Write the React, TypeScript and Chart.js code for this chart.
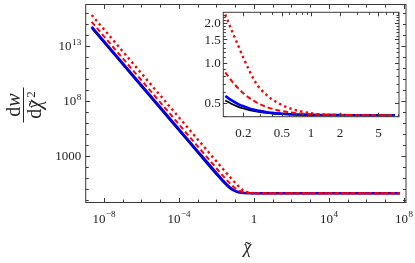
import React, { useEffect, useRef } from "react";
import { Chart, registerables } from "chart.js";
Chart.register(...registerables);

// ---- data ----
const chiTilde = [2.2e-9, 1e-6, 1e-3, 0.01, 0.02, 0.04, 0.06, 0.08, 0.1, 0.13, 0.15, 0.175, 0.2, 0.23, 0.26, 0.3, 0.35, 0.4, 0.45, 0.5, 0.6, 0.7, 0.8, 1, 1.2, 1.5, 2, 2.5, 3, 4, 5, 7.4, 100, 1e4, 6e7];
const blackSolid = [4.13e14, 2.0e9, 2000, 20.4, 5.405, 1.655, 0.961, 0.7175, 0.605, 0.523, 0.494, 0.47, 0.455, 0.443, 0.4346, 0.4272, 0.4213, 0.4175, 0.4149, 0.413, 0.4106, 0.4091, 0.4081, 0.407, 0.4064, 0.4059, 0.4055, 0.4053, 0.4052, 0.4051, 0.4051, 0.405, 0.405, 0.405, 0.405];
const blueSolid = [5.58e14, 2.7e9, 2700, 27.4, 7.155, 2.09, 1.155, 0.827, 0.675, 0.565, 0.525, 0.493, 0.4725, 0.456, 0.445, 0.435, 0.427, 0.422, 0.418, 0.4158, 0.4125, 0.4105, 0.4092, 0.4077, 0.4069, 0.4062, 0.4057, 0.4054, 0.4053, 0.4052, 0.4051, 0.405, 0.405, 0.405, 0.405];
const redDashed = [1.55e15, 7.5e9, 7500, 75.4, 19.16, 5.09, 2.49, 1.577, 1.155, 0.849, 0.738, 0.65, 0.5925, 0.547, 0.516, 0.488, 0.466, 0.452, 0.442, 0.435, 0.426, 0.42, 0.417, 0.4125, 0.41, 0.408, 0.407, 0.406, 0.4058, 0.4055, 0.4053, 0.4051, 0.405, 0.405, 0.405];
const redDotted = [6.6e15, 3.2e10, 32000, 320, 80.4, 20.4, 9.3, 5.4, 3.6, 2.3, 1.78, 1.37, 1.09, 0.878, 0.738, 0.638, 0.572, 0.53, 0.503, 0.483, 0.458, 0.442, 0.432, 0.419, 0.412, 0.4095, 0.407, 0.406, 0.4055, 0.4052, 0.4051, 0.405, 0.405, 0.405, 0.405];

const mainXLabelValues = [1e-8, 1e-4, 1, 1e4, 1e8];
const mainXLabels = ["10^-8", "10^-4", "1", "10^4", "10^8"];
const mainYLabelValues = [1000, 1e8, 1e13];
const mainYLabels = ["1000", "10^8", "10^13"];
const insetXLabelValues = [0.2, 0.5, 1, 2, 5];
const insetXLabels = ["0.2", "0.5", "1", "2", "5"];
const insetYLabelValues = [0.5, 1, 1.5, 2];
const insetYLabels = ["0.5", "1.0", "1.5", "2.0"];

const insetXMin = 0.13;
const insetXMax = 7.4;

const FONT = "'Liberation Serif', 'DejaVu Serif', serif";
const FRAME = "#3a3a3a";

function decades(a: number, b: number) {
  const out: number[] = [];
  for (let e = a; e <= b; e++) out.push(Math.pow(10, e));
  return out;
}
function linSteps(a: number, b: number, s: number) {
  const out: number[] = [];
  for (let v = a; v <= b + 1e-9; v += s) out.push(Math.round(v * 1000) / 1000);
  return out;
}

function drawLabel(ctx: CanvasRenderingContext2D, text: string, x: number, y: number, align: string, fs: number) {
  const parts = text.split("^");
  const base = parts[0];
  const exp = parts.length > 1 ? parts[1].replace("-", "\u2212") : "";
  ctx.font = `${fs}px ${FONT}`;
  const bw = ctx.measureText(base).width;
  const efs = fs * 0.7;
  ctx.font = `${efs}px ${FONT}`;
  const ew = exp ? ctx.measureText(exp).width + 0.5 : 0;
  const w = bw + ew;
  let sx = x;
  if (align === "center") sx = x - w / 2;
  else if (align === "right") sx = x - w;
  ctx.textAlign = "left";
  ctx.textBaseline = "alphabetic";
  ctx.font = `${fs}px ${FONT}`;
  ctx.fillText(base, sx, y);
  if (exp) {
    ctx.font = `${efs}px ${FONT}`;
    ctx.fillText(exp, sx + bw + 0.5, y - fs * 0.4);
  }
}

// italic chi with a tilde placed above it; returns advance width
function drawChiTilde(ctx: CanvasRenderingContext2D, sx: number, baseline: number, fs: number) {
  ctx.font = `italic ${fs}px ${FONT}`;
  ctx.textAlign = "left";
  ctx.textBaseline = "alphabetic";
  const w = ctx.measureText("\u03C7").width;
  ctx.fillText("\u03C7", sx, baseline);
  ctx.textAlign = "center";
  ctx.font = `${fs}px ${FONT}`;
  ctx.fillText("\u02DC", sx + w * 0.55, baseline + fs * 0.12);
  ctx.textAlign = "left";
  return w;
}

const framePlugin = {
  id: "frame",
  beforeDraw(chart: any, _a: any, opts: any) {
    if (opts.fillBg) {
      const { ctx, chartArea: ca } = chart;
      ctx.save();
      ctx.fillStyle = "#ffffff";
      ctx.fillRect(ca.left, ca.top, ca.right - ca.left, ca.bottom - ca.top);
      ctx.restore();
    }
  },
  afterDraw(chart: any, _a: any, opts: any) {
    const { ctx, chartArea: ca } = chart;
    const xs = chart.scales.x;
    const ys = chart.scales.y;
    ctx.save();
    ctx.strokeStyle = FRAME;
    ctx.lineWidth = 1;
    ctx.strokeRect(ca.left, ca.top, ca.right - ca.left, ca.bottom - ca.top);
    ctx.beginPath();
    const tickX = (vals: number[], len: number) => {
      for (const v of vals) {
        const p = Math.round(xs.getPixelForValue(v)) + 0.5;
        if (p < ca.left || p > ca.right) continue;
        ctx.moveTo(p, ca.bottom);
        ctx.lineTo(p, ca.bottom - len);
        ctx.moveTo(p, ca.top);
        ctx.lineTo(p, ca.top + len);
      }
    };
    const tickY = (vals: number[], len: number) => {
      for (const v of vals) {
        const p = Math.round(ys.getPixelForValue(v)) + 0.5;
        if (p < ca.top || p > ca.bottom) continue;
        ctx.moveTo(ca.left, p);
        ctx.lineTo(ca.left + len, p);
        ctx.moveTo(ca.right, p);
        ctx.lineTo(ca.right - len, p);
      }
    };
    tickX(opts.xMinor, opts.minorLen);
    tickX(opts.xLabelValues, opts.majorLen);
    tickY(opts.yMinor, opts.minorLen);
    tickY(opts.yLabelValues, opts.majorLen);
    ctx.stroke();

    ctx.fillStyle = "#222";
    const fs = opts.fontSize;
    opts.xLabelValues.forEach((v: number, i: number) => {
      drawLabel(ctx, opts.xLabels[i], xs.getPixelForValue(v), ca.bottom + opts.xLabelGap, "center", fs);
    });
    opts.yLabelValues.forEach((v: number, i: number) => {
      drawLabel(ctx, opts.yLabels[i], ca.left - opts.yLabelGap, ys.getPixelForValue(v) + fs * 0.33, "right", fs);
    });

    if (opts.titles) {
      // x title
      const xfs = 18;
      ctx.font = `italic ${xfs}px ${FONT}`;
      const cw = ctx.measureText("\u03C7").width;
      drawChiTilde(ctx, (ca.left + ca.right) / 2 + 1.5 - cw / 2, 252.5, xfs);

      // y title (fraction, rotated)
      const tfs = 20;
      ctx.save();
      ctx.translate(23.5, (ca.top + ca.bottom) / 2 + 1.5);
      ctx.rotate(-Math.PI / 2);
      ctx.strokeStyle = "#222";
      ctx.lineWidth = 1;
      ctx.beginPath();
      ctx.moveTo(-17.5, 0);
      ctx.lineTo(17.5, 0);
      ctx.stroke();
      ctx.textAlign = "left";
      ctx.textBaseline = "alphabetic";
      // numerator
      ctx.font = `${tfs}px ${FONT}`;
      const dW = ctx.measureText("d").width;
      ctx.font = `italic ${tfs}px ${FONT}`;
      const wW = ctx.measureText("w").width;
      let sx = -(dW + wW) / 2;
      ctx.font = `${tfs}px ${FONT}`;
      ctx.fillText("d", sx, -4);
      ctx.font = `italic ${tfs}px ${FONT}`;
      ctx.fillText("w", sx + dW, -4);
      // denominator
      ctx.font = `italic ${tfs}px ${FONT}`;
      const cW = ctx.measureText("\u03C7").width;
      const sfs = tfs * 0.65;
      ctx.font = `${sfs}px ${FONT}`;
      const sW = ctx.measureText("2").width;
      sx = -(dW + cW + sW + 2) / 2;
      ctx.font = `${tfs}px ${FONT}`;
      ctx.fillText("d", sx, 17.5);
      drawChiTilde(ctx, sx + dW, 17.5, tfs);
      ctx.font = `${sfs}px ${FONT}`;
      ctx.fillText("2", sx + dW + cW + 2, 17.5 - tfs * 0.3);
      ctx.restore();
    }
    ctx.restore();
  },
};

function makeDatasets(filter?: (x: number) => boolean) {
  const pts = (arr: number[]) =>
    chiTilde.map((x, i) => ({ x, y: arr[i] })).filter((p) => (filter ? filter(p.x) : true));
  return [
    { label: "red dotted", data: pts(redDotted), borderColor: "#ff0000", borderWidth: 2.4, borderDash: [2.4, 3.2], order: 1 },
    { label: "red dashed", data: pts(redDashed), borderColor: "#ff0000", borderWidth: 2, borderDash: [5, 3], order: 2 },
    { label: "blue", data: pts(blueSolid), borderColor: "#0000ff", borderWidth: 2.6, order: 3 },
    { label: "black", data: pts(blackSolid), borderColor: "#000000", borderWidth: 1.8, order: 4 },
  ].map((d) => ({ ...d, pointRadius: 0, fill: false, cubicInterpolationMode: "monotone" as const }));
}

export default function App() {
  const mainRef = useRef<HTMLCanvasElement | null>(null);
  const insetRef = useRef<HTMLCanvasElement | null>(null);

  useEffect(() => {
    const common = (padding: any, xmin: number, xmax: number, ymin: number, ymax: number, frameOpts: any): any => ({
      type: "line",
      data: { datasets: [] as any[] },
      options: {
        animation: false,
        responsive: false,
        events: [],
        layout: { padding },
        scales: {
          x: { type: "logarithmic", min: xmin, max: xmax, display: false },
          y: { type: "logarithmic", min: ymin, max: ymax, display: false },
        },
        plugins: { legend: { display: false }, tooltip: { enabled: false }, frame: frameOpts },
      },
      plugins: [framePlugin],
    });

    const mainCfg = common(
      { left: 85.7, top: 4.5, right: 9, bottom: 60.5 },
      Math.pow(10, -8.976),
      Math.pow(10, 8.107),
      Math.pow(10, -1.23),
      Math.pow(10, 16.77),
      {
        xMinor: decades(-9, 8),
        yMinor: decades(-1, 16),
        xLabelValues: mainXLabelValues,
        xLabels: mainXLabels,
        yLabelValues: mainYLabelValues,
        yLabels: mainYLabels,
        majorLen: 4.5,
        minorLen: 3,
        fontSize: 13,
        xLabelGap: 20,
        yLabelGap: 4.5,
        titles: true,
        fillBg: false,
      }
    );
    mainCfg.data.datasets = makeDatasets();

    const insetCfg = common(
      { left: 223.3, top: 12.3, right: 16, bottom: 146.3 },
      0.124,
      8.15,
      0.395,
      2.39,
      {
        xMinor: [...linSteps(0.1, 0.9, 0.1), ...linSteps(1, 8, 1)],
        yMinor: linSteps(0.4, 2.3, 0.1),
        xLabelValues: insetXLabelValues,
        xLabels: insetXLabels,
        yLabelValues: insetYLabelValues,
        yLabels: insetYLabels,
        majorLen: 4,
        minorLen: 2.5,
        fontSize: 13,
        xLabelGap: 20,
        yLabelGap: 2.6,
        titles: false,
        fillBg: true,
      }
    );
    insetCfg.data.datasets = makeDatasets((x) => x >= insetXMin && x <= insetXMax);

    const c1 = new Chart(mainRef.current as HTMLCanvasElement, mainCfg);
    const c2 = new Chart(insetRef.current as HTMLCanvasElement, insetCfg);
    return () => {
      c1.destroy();
      c2.destroy();
    };
  }, []);

  return (
    <div style={{ position: "fixed", left: 0, top: 0, width: 415, height: 263, background: "#fff" }}>
      <canvas ref={mainRef} width={415} height={263} style={{ position: "absolute", left: 0, top: 0, width: 415, height: 263 }} />
      <canvas ref={insetRef} width={415} height={263} style={{ position: "absolute", left: 0, top: 0, width: 415, height: 263 }} />
    </div>
  );
}
